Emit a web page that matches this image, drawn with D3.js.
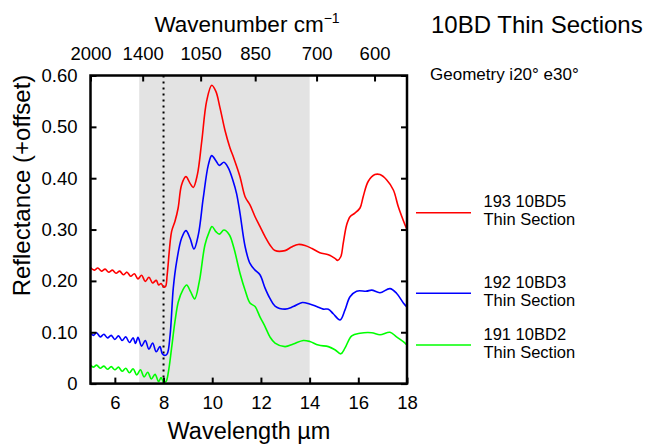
<!DOCTYPE html>
<html>
<head>
<meta charset="utf-8">
<script src="https://cdn.jsdelivr.net/npm/d3@7"></script>
<style>
  body { margin: 0; background: #fff; }
  svg { font-family: "Liberation Sans", Arial, sans-serif; }
</style>
</head>
<body>
<div id="chart"></div>
<script>
// Wavelength (um) / reflectance pairs
const red193 = [
  [5.0,0.226],[5.15,0.221],[5.3,0.225],[5.45,0.219],[5.6,0.223],[5.75,0.217],[5.9,0.221],
  [6.05,0.215],[6.2,0.219],[6.35,0.212],[6.5,0.217],[6.65,0.209],[6.8,0.214],[6.95,0.204],
  [7.1,0.211],[7.25,0.199],[7.4,0.207],[7.55,0.196],[7.7,0.201],[7.8,0.192],[7.9,0.195],
  [8.0,0.188],[8.08,0.189],[8.15,0.212],[8.33,0.296],[8.47,0.316],[8.6,0.342],[8.74,0.387],
  [8.92,0.403],[9.09,0.39],[9.22,0.382],[9.39,0.407],[9.57,0.472],[9.77,0.55],[9.98,0.581],
  [10.15,0.569],[10.32,0.537],[10.52,0.494],[10.73,0.459],[10.88,0.44],[11.14,0.403],
  [11.35,0.364],[11.55,0.348],[11.76,0.325],[11.96,0.306],[12.17,0.286],[12.37,0.27],
  [12.58,0.259],[12.99,0.259],[13.26,0.266],[13.53,0.271],[13.81,0.269],[14.1,0.263],
  [14.42,0.255],[14.77,0.251],[15.04,0.244],[15.15,0.24],[15.28,0.247],[15.38,0.273],
  [15.52,0.309],[15.66,0.325],[15.86,0.332],[16.07,0.342],[16.2,0.364],[16.41,0.394],
  [16.68,0.407],[16.89,0.407],[17.16,0.397],[17.44,0.377],[17.64,0.345],[17.92,0.309],[18.0,0.3]
];
const blue192 = [
  [5.0,0.098],[5.12,0.094],[5.25,0.099],[5.4,0.091],[5.55,0.096],[5.7,0.089],[5.85,0.094],
  [6.0,0.086],[6.15,0.093],[6.3,0.084],[6.45,0.091],[6.6,0.08],[6.75,0.089],[6.85,0.078],
  [6.95,0.09],[7.1,0.073],[7.25,0.084],[7.4,0.067],[7.55,0.079],[7.7,0.062],[7.85,0.072],
  [7.95,0.058],[8.05,0.055],[8.15,0.058],[8.27,0.095],[8.4,0.186],[8.54,0.238],[8.74,0.283],
  [8.92,0.298],[9.09,0.283],[9.25,0.262],[9.43,0.29],[9.63,0.361],[9.84,0.426],[9.98,0.444],
  [10.15,0.434],[10.29,0.425],[10.48,0.431],[10.66,0.42],[10.86,0.394],[11.0,0.37],
  [11.14,0.332],[11.35,0.267],[11.55,0.234],[11.76,0.221],[11.96,0.212],[12.17,0.186],
  [12.37,0.166],[12.58,0.151],[12.99,0.145],[13.33,0.15],[13.7,0.158],[14.0,0.155],
  [14.29,0.15],[14.56,0.145],[14.77,0.145],[14.97,0.136],[15.25,0.124],[15.45,0.143],
  [15.66,0.169],[15.93,0.18],[16.34,0.18],[16.55,0.182],[16.89,0.177],[17.3,0.185],
  [17.57,0.176],[17.85,0.157],[18.0,0.149]
];
const green191 = [
  [5.0,0.036],[5.12,0.032],[5.25,0.036],[5.4,0.03],[5.55,0.034],[5.7,0.028],[5.85,0.033],
  [6.0,0.027],[6.15,0.032],[6.3,0.024],[6.45,0.03],[6.6,0.021],[6.75,0.029],[6.9,0.017],
  [7.05,0.027],[7.2,0.013],[7.35,0.022],[7.5,0.009],[7.65,0.018],[7.8,0.004],[7.9,0.012],
  [8.0,0.003],[8.1,0.004],[8.2,0.023],[8.33,0.069],[8.47,0.121],[8.61,0.16],[8.79,0.182],
  [8.95,0.192],[9.11,0.179],[9.28,0.165],[9.47,0.199],[9.7,0.27],[9.88,0.296],[9.99,0.306],
  [10.15,0.296],[10.29,0.291],[10.48,0.299],[10.7,0.29],[10.89,0.264],[11.14,0.215],
  [11.35,0.182],[11.55,0.157],[11.76,0.15],[11.96,0.13],[12.17,0.111],[12.37,0.091],
  [12.58,0.079],[12.99,0.072],[13.33,0.077],[13.74,0.084],[14.01,0.082],[14.36,0.075],
  [14.77,0.072],[15.04,0.066],[15.28,0.058],[15.45,0.069],[15.73,0.093],[16.07,0.098],
  [16.55,0.099],[16.89,0.095],[17.3,0.1],[17.57,0.091],[17.92,0.079],[18.0,0.075]
];

const seriesNames = [["193 10BD5", "Thin Section"], ["192 10BD3", "Thin Section"], ["191 10BD2", "Thin Section"]];
const seriesColors = ["#ff0000", "#0000ff", "#00ff00"];
const legendY = [212.7, 293.3, 345];

const xTicks = [6, 8, 10, 12, 14, 16, 18];
const yTicks = [0, 0.1, 0.2, 0.3, 0.4, 0.5, 0.6];
const wavenumberTicks = [2000, 1400, 1050, 850, 700, 600];
const shadedBand = [7, 14];
const dottedLine = 8;

const W = 651, H = 446;
const plotLeft = 90.5, plotRight = 407, plotTop = 75.5, plotBottom = 383.6;

const svg = d3.select("#chart").append("svg")
  .attr("width", W).attr("height", H);

const x = d3.scaleLinear().domain([5, 18]).range([plotLeft, plotRight]);
const y = d3.scaleLinear().domain([0, 0.6]).range([plotBottom, plotTop]);

// grey band
svg.append("rect")
  .attr("x", x(shadedBand[0])).attr("y", plotTop)
  .attr("width", x(shadedBand[1]) - x(shadedBand[0]))
  .attr("height", plotBottom - plotTop)
  .attr("fill", "#e3e3e3");

// dotted line at 8 um
svg.append("line")
  .attr("x1", x(dottedLine)).attr("x2", x(dottedLine))
  .attr("y1", plotTop).attr("y2", plotBottom)
  .attr("stroke", "#000").attr("stroke-width", 2)
  .attr("stroke-dasharray", "2,4");

// curves
const line = d3.line()
  .x((d) => x(d[0]))
  .y((d) => y(d[1]))
  .curve(d3.curveCatmullRom.alpha(0.5));

[red193, blue192, green191].forEach((data, i) => {
  svg.append("path")
    .datum(data)
    .attr("d", line)
    .attr("fill", "none")
    .attr("stroke", seriesColors[i])
    .attr("stroke-width", 1.6);
});

// axes (ticks inward)
const tickLen = 6;
svg.append("g")
  .attr("transform", "translate(0," + plotBottom + ")")
  .call(d3.axisBottom(x).tickValues(xTicks).tickSizeInner(-tickLen).tickSizeOuter(0).tickPadding(12))
  .call((g) => g.select(".domain").remove());

svg.append("g")
  .attr("transform", "translate(" + plotLeft + ",0)")
  .call(d3.axisLeft(y).tickValues(yTicks).tickSizeInner(-tickLen).tickSizeOuter(0).tickPadding(13)
    .tickFormat((d) => (d === 0 ? "0" : d3.format(".2f")(d))))
  .call((g) => g.select(".domain").remove());

svg.append("g")
  .attr("transform", "translate(" + plotRight + ",0)")
  .call(d3.axisRight(y).tickValues(yTicks).tickSizeInner(-tickLen).tickSizeOuter(0).tickFormat(""))
  .call((g) => g.select(".domain").remove());

// top axis: wavenumber = 10000 / wavelength
svg.append("g")
  .attr("transform", "translate(0," + plotTop + ")")
  .call(d3.axisTop(x).tickValues(wavenumberTicks.map((w) => 10000 / w))
    .tickFormat((d, i) => wavenumberTicks[i])
    .tickSizeInner(-tickLen).tickSizeOuter(0).tickPadding(15.5))
  .call((g) => g.select(".domain").remove());

svg.selectAll(".tick line").attr("stroke", "#000").attr("stroke-width", 2);
svg.selectAll(".tick text").attr("font-size", 18.5).attr("fill", "#000")
  .attr("font-family", "Liberation Sans, Arial, sans-serif");

// frame
svg.append("rect")
  .attr("x", plotLeft).attr("y", plotTop)
  .attr("width", plotRight - plotLeft).attr("height", plotBottom - plotTop)
  .attr("fill", "none").attr("stroke", "#000").attr("stroke-width", 2.5);

// axis titles
svg.append("text")
  .attr("x", 249).attr("y", 438.5)
  .attr("text-anchor", "middle").attr("font-size", 23.5)
  .text("Wavelength µm");

const topTitle = svg.append("text")
  .attr("x", 247).attr("y", 31.5)
  .attr("text-anchor", "middle").attr("font-size", 22.5);
topTitle.append("tspan").text("Wavenumber cm");
topTitle.append("tspan").attr("dy", -9).attr("font-size", 14).text("\u22121");

svg.append("text")
  .attr("transform", "translate(30,185.5) rotate(-90)")
  .attr("text-anchor", "middle").attr("font-size", 24)
  .text("Reflectance (+offset)");

// title and geometry note
svg.append("text")
  .attr("x", 431).attr("y", 33.3).attr("font-size", 24)
  .text("10BD Thin Sections");

svg.append("text")
  .attr("x", 430).attr("y", 79.5).attr("font-size", 17)
  .text("Geometry i20° e30°");

// legend
const legend = svg.append("g");
seriesNames.forEach((name, i) => {
  legend.append("line")
    .attr("x1", 416).attr("x2", 471)
    .attr("y1", legendY[i]).attr("y2", legendY[i])
    .attr("stroke", seriesColors[i]).attr("stroke-width", 1.6);
  legend.append("text")
    .attr("x", 483.5).attr("y", legendY[i] - 5.4).attr("font-size", 16.5)
    .text(name[0]);
  legend.append("text")
    .attr("x", 483.5).attr("y", legendY[i] + 12.6).attr("font-size", 16.5)
    .text(name[1]);
});
</script>
</body>
</html>
